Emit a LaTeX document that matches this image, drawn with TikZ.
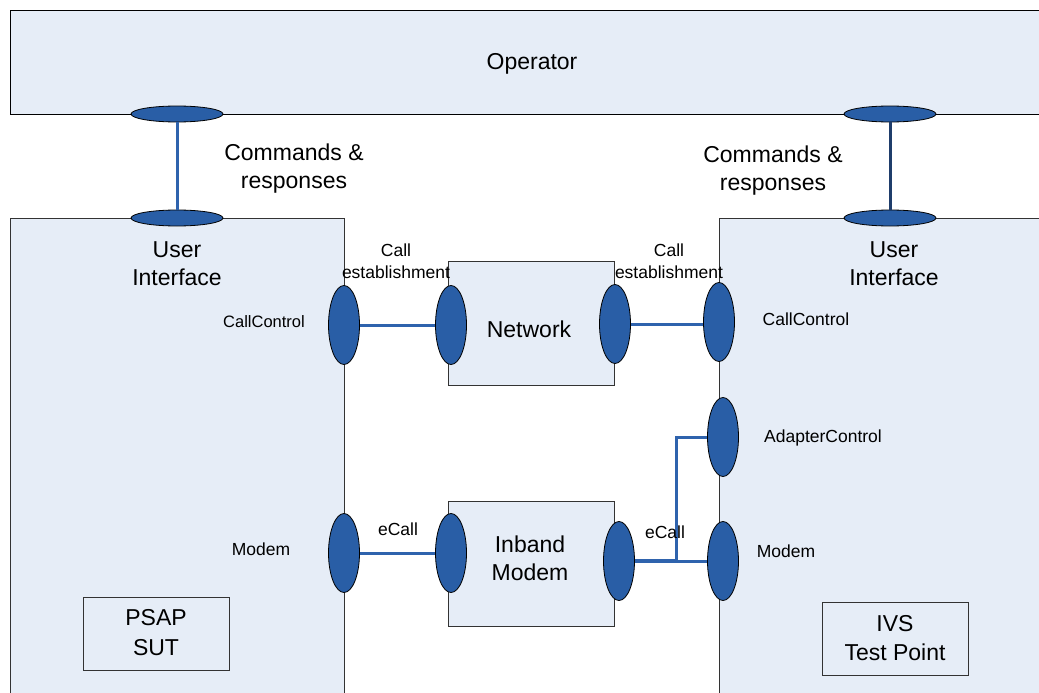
\documentclass[tikz,border=0pt]{standalone}
\usepackage{fontspec}
\setmainfont{Liberation Sans}
\usetikzlibrary{shapes.geometric}
\definecolor{boxfill}{HTML}{E6EDF7}
\definecolor{ellfill}{HTML}{295EA6}
\definecolor{linkblue}{HTML}{2F63AD}
\definecolor{darkline}{HTML}{1F3D6B}
\definecolor{edgegray}{HTML}{333333}
\begin{document}
\begin{tikzpicture}[x=1pt,y=-1pt,
  bigbox/.style={draw=edgegray, fill=boxfill, line width=0.9pt, inner sep=0pt, anchor=north west},
  hell/.style={ellipse, draw=black, fill=ellfill, line width=0.8pt, minimum width=92pt, minimum height=16pt, inner sep=0pt},
  vell/.style={ellipse, draw=black, fill=ellfill, line width=0.8pt, minimum width=31pt, minimum height=79pt, inner sep=0pt},
  bigtext/.style={font=\fontsize{23}{28}\selectfont, align=center, inner sep=0pt},
  smalltext/.style={font=\fontsize{17.5}{22}\selectfont, align=center, inner sep=0pt},
  link/.style={draw=linkblue, line width=3pt}
]
\useasboundingbox (0,0) rectangle (1039,693);
% boxes
\node[bigbox, draw=black, minimum width=1040pt, minimum height=104pt] (op) at (10,10) {};
\node[bigbox, minimum width=334pt, minimum height=500pt] (psap) at (10,218) {};
\node[bigbox, minimum width=340pt, minimum height=500pt] (ivs) at (719,218) {};
\node[bigbox, minimum width=166pt, minimum height=124pt] (net) at (448,261) {};
\node[bigbox, minimum width=166pt, minimum height=125pt] (inb) at (448,501) {};
\node[bigbox, minimum width=146pt, minimum height=73pt] (sut) at (83,597) {};
\node[bigbox, minimum width=146pt, minimum height=73pt] (tp) at (822,602) {};
% box texts
\node[bigtext] (optext) at (532,63.5) {Operator};
\node[bigtext] (nettext) at (529,329.5) {Network};
\node[bigtext] (inbtext) at (530,558.5) {Inband\\Modem};
\node[bigtext, font=\fontsize{23}{30}\selectfont] (suttext) at (156,632.5) {PSAP\\SUT};
\node[bigtext, font=\fontsize{23}{29}\selectfont] (tptext) at (895,638.5) {IVS\\Test Point};
\node[bigtext] (uiltext) at (177,264) {User\\Interface};
\node[bigtext] (uirtext) at (894,264) {User\\Interface};
\node[bigtext] (cmdl) at (294,168.5) {Commands \&\\responses};
\node[bigtext] (cmdr) at (773,170.5) {Commands \&\\responses};
% ports
\node[hell] (opl) at (177,114) {};
\node[hell] (opr) at (890,114) {};
\node[hell] (uil) at (177,218) {};
\node[hell] (uir) at (890,218) {};
\node[vell] (ccl) at (344,325) {};
\node[vell] (netl) at (451,325) {};
\node[vell] (netr) at (615,324) {};
\node[vell] (ccr) at (719,322) {};
\node[vell] (ac) at (723,437) {};
\node[vell] (mdl) at (344,553) {};
\node[vell] (iml) at (451,553) {};
\node[vell] (imr) at (619,561) {};
\node[vell] (mdr) at (723,561) {};
\coordinate (junc) at (676,561);
% connectors
\draw[link] (opl) -- (uil);
\draw[link, draw=darkline] (opr) -- (uir);
\draw[link] (ccl) -- (netl);
\draw[link] (netr.east) -- (netr.east -| ccr.west);
\draw[link] (mdl) -- (iml);
\draw[link, line width=4.5pt] (imr.east) -- (junc);
\draw[link] (junc) -- (mdr.west);
\draw[link] (junc) |- (ac.west);
% port labels
\node[smalltext] (cel) at (396,261.5) {Call\\establishment};
\node[smalltext] (cer) at (669,261.5) {Call\\establishment};
\node[smalltext, font=\fontsize{16.5}{20}\selectfont] (ccltext) at (264,321.5) {CallControl};
\node[smalltext] (ccrtext) at (806,319.5) {CallControl};
\node[smalltext] (actext) at (823,437.5) {AdapterControl};
\node[smalltext] (mdltext) at (261,549.5) {Modem};
\node[smalltext] (mdrtext) at (786,551.5) {Modem};
\node[smalltext] (ecl) at (398,529.5) {eCall};
\node[smalltext] (ecr) at (665,532.5) {eCall};
\end{tikzpicture}
\end{document}
